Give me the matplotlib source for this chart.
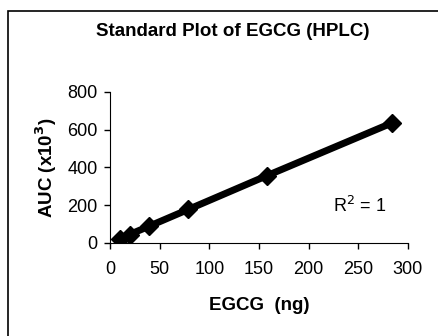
import matplotlib.pyplot as plt
from matplotlib.patches import Rectangle

# EGCG standard curve values
egcg_ng = [9.9, 19.7, 39.4, 78.9, 157.8, 284.0]
auc_x1000 = [22, 45, 89, 178, 356, 636]

xticks = [0, 50, 100, 150, 200, 250, 300]
yticks = [0, 200, 400, 600, 800]

plt.rcParams['font.family'] = ['Liberation Sans', 'DejaVu Sans']

fig = plt.figure(figsize=(4.39, 3.36), dpi=100)
ax = fig.add_axes([0.2506, 0.2768, 0.6784, 0.4494])

ax.plot(egcg_ng, auc_x1000, color="black", linewidth=5, marker="D", markersize=9)

ax.set_xlim(0, 300)
ax.set_ylim(0, 800)
ax.set_xticks(xticks)
ax.set_yticks(yticks)
ax.spines["top"].set_visible(False)
ax.spines["right"].set_visible(False)
ax.tick_params(direction="out", length=4, width=1, labelsize=13)
ax.tick_params(axis="x", pad=9)
ax.tick_params(axis="y", pad=5)
ax.set_xlabel("EGCG  (ng)", fontsize=13.5, fontweight="bold", labelpad=14)
ax.set_ylabel("AUC (x10$^\\mathbf{3}$)", fontsize=13.5, fontweight="bold", labelpad=6)
ax.text(225, 196, "R$^2$ = 1", fontsize=13, ha="left", va="center")

fig.text(0.531, 0.905, "Standard Plot of EGCG (HPLC)", fontsize=13.5, fontweight="bold",
         ha="center", va="center")

# outer frame of the chart
fig.patches.append(Rectangle((8 / 439, -0.01), 1.0, 1.01 - 11 / 336, transform=fig.transFigure,
                             fill=False, edgecolor="black", linewidth=1.2))

fig.savefig("out.png", dpi=100)
